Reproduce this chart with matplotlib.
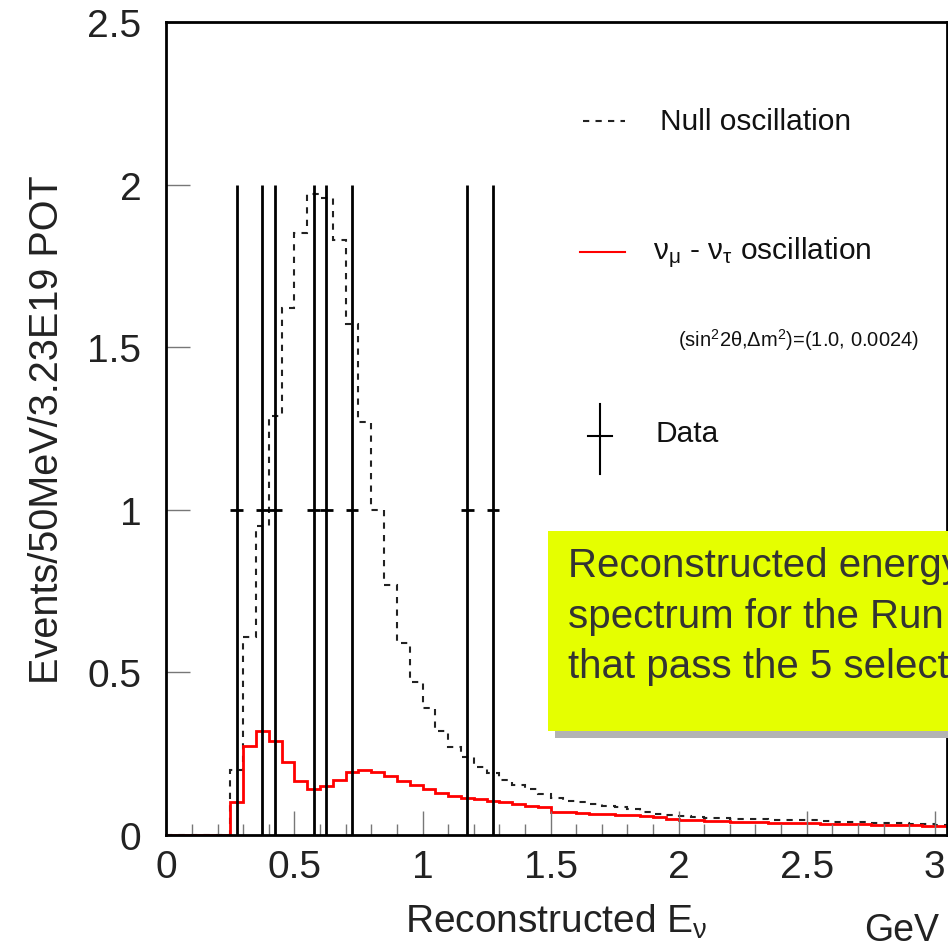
import numpy as np
import matplotlib.pyplot as plt
from matplotlib.patches import Rectangle

plt.rcParams['font.family'] = ['Liberation Sans', 'DejaVu Sans']
plt.rcParams['mathtext.default'] = 'regular'

# 50 MeV bins from 0 to 3.05 GeV
bin_edges = np.round(np.arange(0, 3.0501, 0.05), 3)

# Null oscillation prediction (events per bin)
null_osc = [0, 0, 0, 0, 0, 0.20, 0.61, 0.95, 1.29, 1.62,
            1.85, 1.97, 1.96, 1.83, 1.57, 1.27, 1.00, 0.77, 0.59, 0.47,
            0.39, 0.32, 0.27, 0.24, 0.21, 0.19, 0.17, 0.155, 0.14, 0.125,
            0.115, 0.105, 0.10, 0.095, 0.09, 0.085, 0.08, 0.072, 0.066, 0.06,
            0.057, 0.055, 0.053, 0.051, 0.05, 0.049, 0.048, 0.047, 0.046, 0.045,
            0.045, 0.043, 0.041, 0.04, 0.039, 0.038, 0.037, 0.036, 0.034, 0.033,
            0.032]

# numu - nutau oscillation prediction
mutau_osc = [0, 0, 0, 0, 0, 0.10, 0.275, 0.32, 0.29, 0.225,
             0.165, 0.14, 0.15, 0.17, 0.195, 0.20, 0.195, 0.18, 0.165, 0.155,
             0.14, 0.13, 0.12, 0.115, 0.11, 0.105, 0.10, 0.095, 0.09, 0.087,
             0.072, 0.07, 0.068, 0.066, 0.064, 0.062, 0.06, 0.057, 0.054, 0.05,
             0.046, 0.045, 0.044, 0.042, 0.041, 0.04, 0.039, 0.038, 0.038, 0.037,
             0.036, 0.035, 0.034, 0.033, 0.033, 0.032, 0.031, 0.031, 0.03, 0.029,
             0.029]

# Data events (bin centres, 1 event each)
data_x = [0.275, 0.375, 0.425, 0.575, 0.625, 0.725, 1.175, 1.275]
data_y = [1, 1, 1, 1, 1, 1, 1, 1]

fig = plt.figure(figsize=(9.48, 9.53), dpi=100)
ax = fig.add_axes([0.1755, 0.1228, 0.823, 0.853])

ax.stairs(null_osc, bin_edges, color='#222222', lw=1.5, linestyle=(0, (3, 3)))
ax.stairs(mutau_osc, bin_edges, color='red', lw=2)
ax.errorbar(data_x, data_y, yerr=1, xerr=0.025, fmt='none', ecolor='black',
            elinewidth=2, capsize=0)

ax.set_xlim(0, 3.046)
ax.set_ylim(0, 2.5)
ax.set_xticks([0, 0.5, 1, 1.5, 2, 2.5, 3])
ax.set_xticklabels(['0', '0.5', '1', '1.5', '2', '2.5', '3'])
ax.set_xticks(np.arange(0, 3.01, 0.1), minor=True)
ax.set_yticks([0, 0.5, 1, 1.5, 2, 2.5])
ax.set_yticklabels(['0', '0.5', '1', '1.5', '2', '2.5'])
ax.tick_params(axis='both', which='major', direction='in', length=17, width=1,
               color='#777777', labelsize=28, labelcolor='#222222')
ax.tick_params(axis='x', which='major', pad=10)
ax.tick_params(axis='y', which='major', pad=18)
ax.tick_params(axis='x', which='minor', direction='in', length=8, width=1,
               color='#777777')
for s in ax.spines.values():
    s.set_linewidth(2)

ax.set_ylabel('Events/50MeV/3.23E19 POT', fontsize=28.5, color='#222222', labelpad=15)
ax.set_xlabel('Reconstructed E$_ν$', fontsize=28, color='#222222', labelpad=12)
fig.text(0.912, 0.013, 'GeV', fontsize=27, color='#222222', ha='left', va='baseline')

# legend drawn by hand
ax.plot([1.628, 1.792], [2.197, 2.197], color='#222222', lw=1.5, linestyle=(0, (3, 3)))
ax.text(1.929, 2.197, 'Null oscillation', fontsize=21.5, va='center', color='#111111')
ax.plot([1.616, 1.792], [1.794, 1.794], color='red', lw=1.5)
ax.text(1.901, 1.794, '$ν_μ$ - $ν_τ$ oscillation', fontsize=21.5,
        va='center', color='#111111')
ax.text(1.999, 1.526, '(sin$^2$2θ,Δm$^2$)=(1.0, 0.0024)', fontsize=14.5,
        va='center', color='#111111')
ax.plot([1.694, 1.694], [1.111, 1.326], color='black', lw=1.5)
ax.plot([1.647, 1.741], [1.228, 1.228], color='black', lw=1.5)
ax.text(1.909, 1.235, 'Data', fontsize=21.5, va='center', color='#111111')

# yellow caption box with shadow
fig.patches.append(Rectangle((0.585, 0.225), 0.5, 0.21, transform=fig.transFigure,
                             facecolor='#b3b3b3', edgecolor='none', zorder=5))
fig.patches.append(Rectangle((0.578, 0.232), 0.5, 0.21, transform=fig.transFigure,
                             facecolor='#e5ff00', edgecolor='none', zorder=6))
fig.text(0.599, 0.426, 'Reconstructed energy\nspectrum for the Run I data\nthat pass the 5 selection cuts',
         fontsize=29, color='#333333', ha='left', va='top', linespacing=1.42, zorder=7)

plt.savefig('out.png', dpi=100)
